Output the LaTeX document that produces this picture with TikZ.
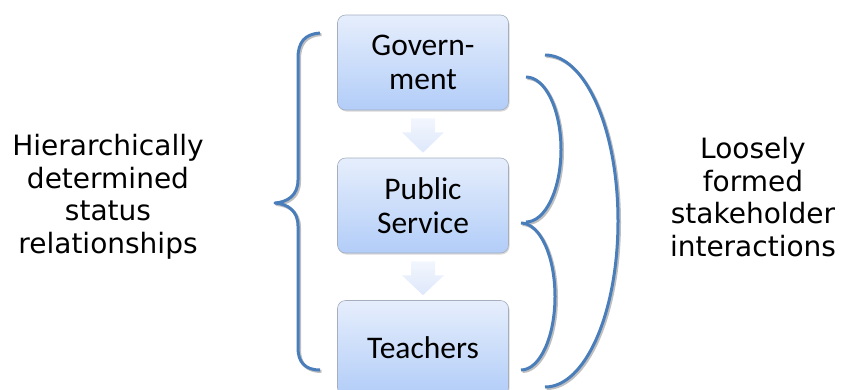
\documentclass[tikz,border=0pt]{standalone}
\usepackage{fontspec}
\setmainfont{DejaVu Sans}
\newfontfamily\boxfont{Carlito}
\usetikzlibrary{calc,shadows}
\definecolor{bracecol}{HTML}{4A7EBB}
\definecolor{boxtop}{HTML}{E6EEFC}
\definecolor{boxbot}{HTML}{B2CDF8}
\definecolor{boxedge}{HTML}{A4AEBE}
\definecolor{arrtop}{HTML}{F2F6FD}
\definecolor{arrbot}{HTML}{DEE8FB}
\begin{document}
\begin{tikzpicture}[x=1pt,y=-1pt,
  stagebox/.style={rounded corners=8pt, draw=boxedge, line width=0.6pt,
    top color=boxtop, bottom color=boxbot, minimum width=171pt,
    minimum height=95pt, inner sep=0pt, align=center,
    font=\boxfont\fontsize{31.5}{34}\selectfont,
    drop shadow={shadow xshift=1pt,shadow yshift=-1.5pt,opacity=0.3}},
  sidelabel/.style={align=center, inner sep=0pt, font=\fontsize{28}{32.5}\selectfont},
  bracestroke/.style={draw=bracecol, line width=3pt, line join=round},
  braceshadow/.style={draw=black!25, line width=3pt, line join=round, shift={(1.5,1.5)}}
]
\useasboundingbox (0,0) rectangle (843,389);

% boxes
\node[stagebox] (gov) at (423,62.5) {Govern-\\ment};
\node[stagebox] (pub) at (423,205.5) {Public\\Service};
\node[stagebox] (tea) at (423,348) {Teachers};

% block arrows
\foreach \s/\t in {gov/pub, pub/tea}{
  \shade[top color=arrtop, bottom color=arrbot]
    ($(\s.south)+(-12,8)$) -- ($(\s.south)+(12,8)$) -- ($(\s.south)+(12,22)$)
    -- ($(\s.south)+(21,22)$) -- ($(\t.north)+(0,-5)$) -- ($(\s.south)+(-21,22)$)
    -- ($(\s.south)+(-12,22)$) -- cycle;
}

% side labels
\node[sidelabel] (left) at (108,197) {Hierarchically\\determined\\status\\relationships};
\node[sidelabel] (right) at (753,197) {Loosely\\formed\\stakeholder\\interactions};

% braces
\foreach \sty in {braceshadow, bracestroke}{
  \path[\sty] (320,33) .. controls (305,34) and (298,42) .. (298,58) -- (298,180)
    .. controls (298,195) and (288,202) .. (275,203)
    .. controls (288,204) and (298,211) .. (298,226) -- (298,348)
    .. controls (298,362) and (305,370) .. (320,370);
  \path[\sty] (526,77) arc[start angle=-90, end angle=90, x radius=35, y radius=72.5];
  \path[\sty] (521,223) arc[start angle=-90, end angle=90, x radius=34, y radius=73.5];
  \path[\sty] (545,55) arc[start angle=-90, end angle=90, x radius=73, y radius=166];
}
\end{tikzpicture}
\end{document}
